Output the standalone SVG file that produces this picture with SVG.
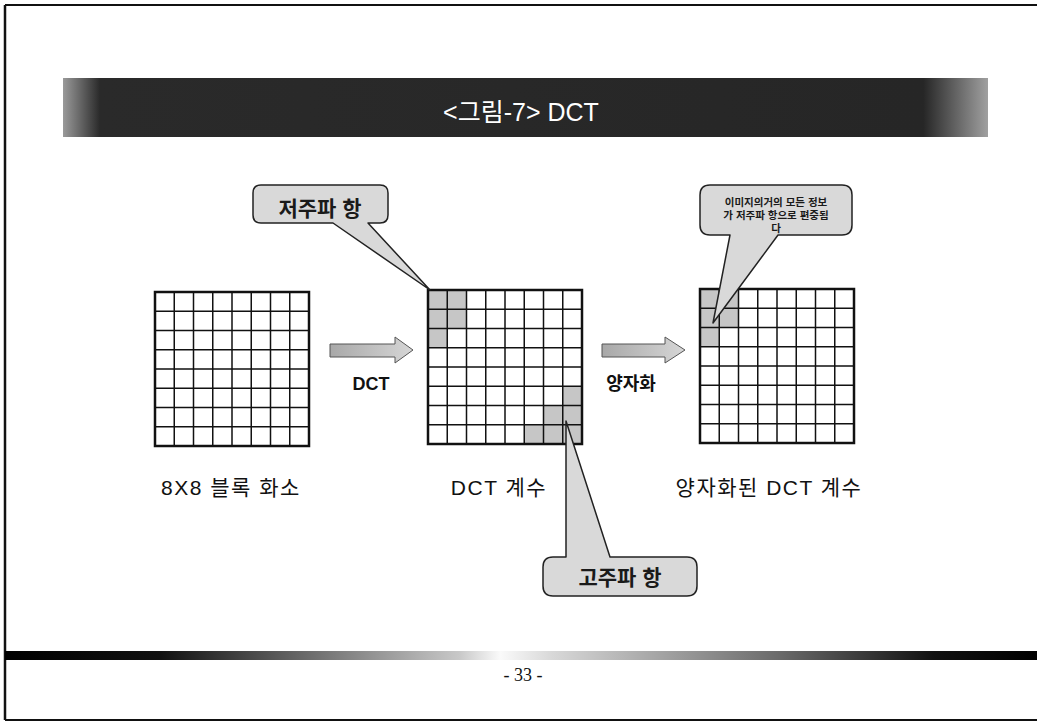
<svg xmlns="http://www.w3.org/2000/svg" xmlns:xlink="http://www.w3.org/1999/xlink" width="1037" height="722" viewBox="0 0 1037 722">
<style>
.ko{font-family:"Liberation Sans","Noto Sans CJK KR",sans-serif;}
.lbl{font-size:21px;fill:#111;letter-spacing:1.5px;text-anchor:middle;}
.albl{font-size:18px;font-weight:bold;fill:#111;text-anchor:middle;}
.call{fill:#d9d9d9;stroke:#222;stroke-width:1.5;stroke-linejoin:round;}
.ctext{font-weight:bold;fill:#1a1a1a;text-anchor:middle;}
.shade{fill:#c6c6c6;}
.arrow{fill:url(#arrowGrad);stroke:#555;stroke-width:1;}
.border{stroke:#111;fill:none;}
</style>
<defs>
<linearGradient id="hdrGrad" x1="0" y1="0" x2="1" y2="0">
<stop offset="0" stop-color="#9a9a9a"/>
<stop offset="0.04" stop-color="#2a2a2a"/>
<stop offset="0.93" stop-color="#262626"/>
<stop offset="1" stop-color="#a0a0a0"/>
</linearGradient>
<linearGradient id="ftGrad" x1="0" y1="0" x2="1" y2="0">
<stop offset="0" stop-color="#000"/>
<stop offset="0.15" stop-color="#111"/>
<stop offset="0.44" stop-color="#c8c8c8"/>
<stop offset="0.48" stop-color="#fafafa"/>
<stop offset="0.53" stop-color="#d8d8d8"/>
<stop offset="0.75" stop-color="#6a6a6a"/>
<stop offset="0.9" stop-color="#111"/>
<stop offset="1" stop-color="#000"/>
</linearGradient>
<linearGradient id="arrowGrad" x1="0" y1="0" x2="1" y2="0">
<stop offset="0" stop-color="#a8a8a8"/>
<stop offset="1" stop-color="#d6d6d6"/>
</linearGradient>
<g id="grid" fill="none" stroke="#111">
<g stroke-width="1.5">
<path d="M19.25,0V154M38.5,0V154M57.75,0V154M77,0V154M96.25,0V154M115.5,0V154M134.75,0V154"/>
<path d="M0,19.25H154M0,38.5H154M0,57.75H154M0,77H154M0,96.25H154M0,115.5H154M0,134.75H154"/>
</g>
<rect x="0" y="0" width="154" height="154" stroke-width="2.5"/>
</g>
</defs>
<rect width="1037" height="722" fill="#fff"/>

<!-- page frame -->
<g id="frame">
<path class="border" stroke-width="2.5" d="M5,5V720"/>
<path class="border" stroke-width="2" d="M5,5H1037"/>
<path class="border" stroke-width="2" d="M5,720H1037"/>
</g>

<!-- header -->
<g id="header">
<rect x="63" y="78" width="925" height="59" fill="url(#hdrGrad)"/>
<text class="ko" x="521" y="121" font-size="25" fill="#fff" text-anchor="middle">&lt;그림-7&gt; DCT</text>
</g>

<!-- footer -->
<g id="footer">
<rect x="5" y="651" width="1032" height="9" fill="url(#ftGrad)"/>
<text x="523" y="681" font-family="'Liberation Serif',serif" font-size="18" fill="#111" text-anchor="middle">- 33 -</text>
</g>

<!-- connectors -->
<g id="connectors">
<polygon class="arrow" points="330,344 395,344 395,337 413,350 395,363 395,357 330,357"/>
<polygon class="arrow" points="602,344 665,344 665,337 685,350 665,363 665,357 602,357"/>
</g>

<!-- left grid -->
<g id="grid-pixels">
<use xlink:href="#grid" x="155" y="292"/>
<text class="ko lbl" x="231" y="495">8X8 블록 화소</text>
</g>

<!-- middle grid -->
<g id="grid-dct">
<g transform="translate(428,290)">
<rect class="shade" x="0" y="0" width="38.5" height="38.5"/>
<rect class="shade" x="0" y="38.5" width="19.25" height="19.25"/>
<rect class="shade" x="134.75" y="96.25" width="19.25" height="57.75"/>
<rect class="shade" x="115.5" y="115.5" width="19.25" height="38.5"/>
<rect class="shade" x="96.25" y="134.75" width="19.25" height="19.25"/>
</g>
<use xlink:href="#grid" x="428" y="290"/>
<text class="ko lbl" x="499" y="495">DCT 계수</text>
</g>

<!-- right grid -->
<g id="grid-quant">
<g transform="translate(700,289)">
<rect class="shade" x="0" y="0" width="38.5" height="38.5"/>
<rect class="shade" x="0" y="38.5" width="19.25" height="19.25"/>
</g>
<use xlink:href="#grid" x="700" y="289"/>
<text class="ko lbl" x="769" y="495">양자화된 DCT 계수</text>
</g>

<!-- arrow labels -->
<g id="label-dct">
<text class="ko albl" x="371" y="390">DCT</text>
</g>
<g id="label-quant">
<text class="ko albl" x="631" y="390">양자화</text>
</g>

<!-- callout low freq -->
<g id="callout-low">
<path class="call" d="M261,185H380Q388,185 388,193V215Q388,223 380,223H368L430,290L333,223H261Q253,223 253,215V193Q253,185 261,185Z"/>
<text class="ko ctext" x="320" y="216" font-size="21">저주파 항</text>
</g>

<!-- callout info -->
<g id="callout-info">
<path class="call" d="M710,185H842Q852,185 852,195V225Q852,235 842,235H778L713,323L730,235H710Q700,235 700,225V195Q700,185 710,185Z"/>
<text class="ko ctext" font-size="10.5" x="776" y="206">이미지의거의 모든 정보</text>
<text class="ko ctext" font-size="10.5" x="776" y="219">가 저주파 항으로 편중됨</text>
<text class="ko ctext" font-size="10.5" x="776" y="232">다</text>
</g>

<!-- callout high freq -->
<g id="callout-high">
<path class="call" d="M553,557H566L566,421L610,557H687Q697,557 697,567V586Q697,596 687,596H553Q543,596 543,586V567Q543,557 553,557Z"/>
<text class="ko ctext" x="620" y="585" font-size="21">고주파 항</text>
</g>
</svg>
